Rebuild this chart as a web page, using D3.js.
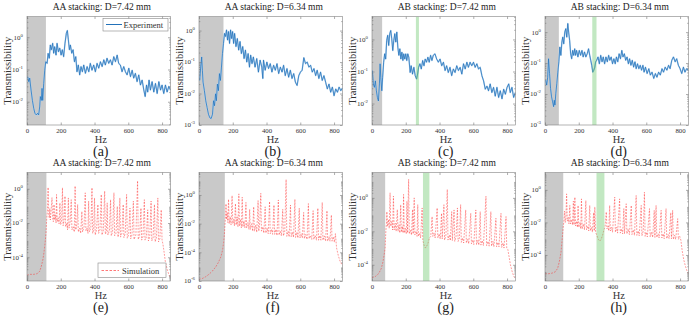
<!DOCTYPE html>
<html>
<head>
<meta charset="utf-8">
<script src="https://cdn.jsdelivr.net/npm/d3@7"></script>
<style>
body { margin: 0; background: #fff; }
svg { font-family: "Liberation Serif", "Times New Roman", serif; }
</style>
</head>
<body>
<svg id="chart" width="696" height="317"></svg>
<script>
// ---- data: [frequency Hz, transmissibility] ----
var expA = [[4,0.060],[10,0.042],[16,0.054],[24,0.023],[32,0.011],[40,0.0062],[47,0.0044],[55,0.0039],[63,0.0044],[69,0.0039],[75,0.0069],[79,0.0145],[85,0.011],[89,0.026],[93,0.011],[99,0.037],[105,0.095],[111,0.174],[119,0.155],[125,0.316],[132,0.224],[138,0.575],[144,0.41],[152,0.65],[158,0.32],[164,0.51],[172,0.28],[178,0.65],[186,0.355],[194,0.46],[202,0.28],[209,0.41],[217,0.25],[225,0.65],[233,1.32],[239,1.62],[245,0.83],[251,0.41],[257,0.575],[265,0.32],[273,0.41],[281,0.174],[289,0.25],[296,0.085],[304,0.138],[312,0.068],[320,0.123],[328,0.085],[336,0.138],[346,0.076],[356,0.123],[366,0.085],[375,0.155],[385,0.095],[395,0.138],[405,0.085],[415,0.155],[425,0.11],[435,0.174],[445,0.123],[455,0.2],[464,0.138],[474,0.224],[484,0.155],[494,0.2],[504,0.138],[514,0.25],[524,0.174],[534,0.28],[543,0.155],[553,0.138],[563,0.085],[573,0.123],[583,0.085],[593,0.068],[603,0.11],[613,0.06],[623,0.095],[632,0.054],[642,0.076],[652,0.042],[662,0.068],[672,0.033],[682,0.047],[692,0.023],[700,0.0145],[708,0.033],[715,0.020],[723,0.047],[731,0.023],[741,0.042],[751,0.020],[761,0.037],[771,0.018],[781,0.042],[791,0.023],[800,0.033],[810,0.018],[820,0.033],[830,0.020],[840,0.030],[850,0.023]];

var expB = [[4,0.026],[10,0.069],[16,0.145],[20,0.055],[24,0.023],[32,0.0123],[40,0.0059],[48,0.0036],[56,0.0022],[64,0.0017],[72,0.0016],[80,0.0022],[86,0.0059],[92,0.0041],[98,0.0098],[103,0.0059],[109,0.020],[115,0.0123],[121,0.043],[127,0.026],[133,0.069],[139,0.186],[145,0.39],[151,0.81],[157,0.65],[163,1.05],[169,0.5],[175,0.93],[181,0.39],[187,1.05],[193,0.56],[199,0.93],[205,0.39],[211,0.81],[219,0.31],[227,0.56],[235,0.24],[243,0.45],[251,0.186],[259,0.31],[267,0.129],[275,0.24],[283,0.1],[291,0.186],[299,0.069],[306,0.166],[314,0.089],[322,0.145],[332,0.069],[342,0.129],[352,0.048],[362,0.115],[372,0.069],[378,0.03],[382,0.115],[392,0.055],[402,0.1],[412,0.062],[422,0.089],[432,0.048],[442,0.079],[452,0.055],[462,0.089],[472,0.043],[482,0.069],[492,0.048],[501,0.079],[511,0.037],[521,0.062],[531,0.033],[541,0.055],[551,0.030],[561,0.043],[571,0.023],[581,0.018],[591,0.037],[601,0.048],[611,0.055],[621,0.138],[631,0.089],[641,0.1],[651,0.069],[661,0.079],[671,0.048],[681,0.062],[691,0.037],[700,0.055],[710,0.030],[720,0.048],[730,0.026],[740,0.037],[750,0.023],[760,0.014],[770,0.020],[780,0.011],[790,0.016],[800,0.0085],[810,0.014],[820,0.011],[830,0.016],[840,0.0123],[850,0.015]];

var expC = [[2,0.107],[8,0.041],[14,0.032],[20,0.051],[26,0.025],[32,0.0155],[38,0.012],[44,0.041],[48,0.174],[52,0.066],[58,0.025],[63,0.066],[69,0.195],[75,0.355],[81,0.245],[87,0.93],[93,1.35],[99,0.65],[105,1.51],[111,1.9],[117,1.05],[123,0.45],[129,0.93],[135,1.51],[141,0.83],[147,1.7],[153,0.575],[159,0.32],[165,0.51],[171,0.245],[177,0.4],[183,0.22],[188,0.355],[194,0.245],[200,0.355],[206,0.22],[212,0.355],[218,0.28],[226,0.093],[232,0.151],[240,0.083],[248,0.135],[256,0.074],[264,0.058],[270,0.083],[276,0.135],[284,0.174],[292,0.12],[300,0.22],[308,0.151],[315,0.245],[323,0.195],[331,0.28],[339,0.195],[347,0.32],[355,0.22],[363,0.32],[373,0.355],[383,0.245],[393,0.195],[403,0.245],[413,0.151],[423,0.195],[433,0.107],[442,0.151],[452,0.093],[462,0.135],[472,0.074],[482,0.12],[492,0.093],[502,0.151],[512,0.107],[522,0.135],[532,0.083],[542,0.174],[552,0.12],[562,0.195],[571,0.135],[581,0.195],[591,0.151],[601,0.195],[611,0.135],[621,0.174],[631,0.12],[641,0.135],[651,0.074],[661,0.051],[671,0.028],[681,0.035],[690,0.025],[700,0.041],[710,0.022],[720,0.032],[730,0.017],[740,0.032],[750,0.0155],[760,0.025],[770,0.014],[780,0.028],[790,0.0195],[800,0.032],[810,0.041],[819,0.022],[829,0.032],[839,0.0155],[849,0.022]];

var expD = [[4,0.028],[10,0.0195],[16,0.035],[21,0.138],[27,0.046],[33,0.015],[39,0.0081],[45,0.0056],[51,0.0039],[55,0.0063],[59,0.0044],[64,0.0105],[70,0.022],[76,0.051],[82,0.11],[88,0.33],[94,0.178],[100,0.48],[105,0.69],[111,0.42],[117,1.0],[123,1.29],[129,0.69],[135,1.9],[140,1.0],[146,0.54],[152,0.2],[158,0.138],[164,0.257],[170,0.178],[176,0.29],[181,0.178],[187,0.257],[195,0.158],[203,0.257],[211,0.178],[219,0.257],[226,0.158],[234,0.229],[242,0.158],[250,0.2],[258,0.29],[265,0.178],[271,0.123],[277,0.085],[283,0.051],[289,0.059],[295,0.074],[300,0.11],[306,0.123],[314,0.158],[322,0.095],[330,0.178],[338,0.11],[345,0.158],[353,0.095],[361,0.158],[369,0.11],[377,0.178],[384,0.123],[392,0.158],[400,0.095],[408,0.138],[416,0.095],[423,0.158],[431,0.11],[439,0.2],[447,0.138],[455,0.257],[462,0.158],[470,0.2],[478,0.123],[486,0.158],[494,0.095],[501,0.138],[509,0.085],[517,0.123],[525,0.074],[533,0.11],[540,0.066],[548,0.095],[556,0.066],[564,0.085],[572,0.059],[580,0.085],[587,0.051],[595,0.074],[605,0.046],[615,0.066],[624,0.041],[634,0.051],[644,0.032],[654,0.046],[663,0.035],[673,0.051],[683,0.041],[693,0.066],[702,0.051],[712,0.074],[722,0.059],[732,0.085],[741,0.066],[751,0.123],[761,0.158],[771,0.11],[780,0.138],[790,0.085],[800,0.066],[810,0.046],[820,0.074],[829,0.051],[839,0.066],[849,0.059]];

var simE = [[0,9e-6],[20,1.0e-5],[40,1.0e-5],[60,1.1e-5],[75,1.5e-5],[85,3e-5],[95,8e-5],[102,2.5e-4],[108,8e-4],[113,3e-3],[117,0.02],[121,0.05],[125,1.2],[129,0.03],[132,0.02],[135,0.07],[138,0.015],[142,0.04],[148,0.3],[152,0.02],[156,0.012],[160,0.12],[164,0.015],[168,0.03],[172,0.01],[175,0.46],[179,0.012],[185,0.02],[190,0.009],[195,0.15],[199,0.008],[205,0.012],[210,1.15],[214,0.007],[220,0.015],[225,0.37],[229,0.006],[236,0.01],[240,0.004],[245,0.29],[249,0.005],[256,0.012],[262,0.23],[266,0.004],[274,0.006],[280,0.003],[285,1.45],[289,0.004],[295,0.008],[300,0.12],[304,0.003],[312,0.005],[318,0.0025],[325,0.047],[329,0.003],[338,0.006],[345,0.58],[349,0.0035],[356,0.005],[361,0.0025],[365,0.19],[369,0.003],[378,0.005],[385,1.15],[389,0.0025],[395,0.004],[400,0.29],[404,0.002],[412,0.004],[420,0.12],[424,0.0025],[432,0.004],[440,0.46],[444,0.002],[452,0.0035],[460,0.73],[464,0.0022],[470,0.003],[475,0.15],[479,0.002],[488,0.0035],[495,0.23],[499,0.0018],[507,0.003],[515,0.58],[519,0.0018],[527,0.0025],[535,0.093],[539,0.0015],[545,0.003],[550,0.29],[554,0.0015],[562,0.0025],[570,0.12],[574,0.0014],[582,0.0025],[590,0.46],[594,0.0013],[602,0.002],[610,0.074],[614,0.0012],[622,0.002],[630,0.19],[634,0.0011],[645,0.002],[655,2.9],[659,0.0011],[667,0.0018],[675,0.074],[679,0.001],[687,0.0016],[695,0.23],[699,0.001],[707,0.0015],[715,0.059],[719,0.0009],[727,0.0015],[735,0.19],[739,0.0009],[747,0.0014],[755,0.12],[759,0.0008],[767,0.0014],[775,0.29],[779,0.0008],[787,0.0012],[795,0.059],[800,0.001],[805,0.0006],[812,2e-4],[820,5e-5],[830,2e-5],[840,1e-5],[850,6e-6]];

var simF = [[0,1.3e-6],[20,1.5e-6],[40,2e-6],[60,3e-6],[80,5e-6],[100,1e-5],[115,2e-5],[130,5e-5],[140,1.5e-4],[146,5e-4],[150,1.5e-3],[153,6e-3],[157,0.03],[160,0.24],[163,0.02],[167,0.06],[171,0.012],[175,0.5],[179,0.01],[185,0.03],[190,0.008],[196,0.9],[200,0.01],[206,0.02],[210,0.007],[216,0.25],[220,0.008],[226,0.03],[231,0.006],[236,1.2],[240,0.007],[246,0.02],[251,0.005],[256,0.7],[260,0.006],[266,0.015],[272,0.005],[278,0.3],[282,0.005],[290,0.012],[296,0.004],[300,0.1],[304,0.004],[312,0.01],[318,0.003],[324,0.15],[328,0.003],[336,0.008],[342,0.0025],[350,0.4],[354,0.003],[360,0.012],[366,1.3],[370,0.003],[378,0.006],[384,0.0022],[392,0.15],[396,0.0022],[404,0.005],[410,0.002],[418,0.35],[422,0.002],[430,0.004],[436,0.0018],[444,0.2],[448,0.0018],[456,0.004],[462,0.0015],[470,0.45],[474,0.0016],[482,0.003],[488,0.0014],[496,0.1],[500,0.0014],[508,0.003],[516,12],[520,0.0013],[528,0.003],[534,0.0012],[542,0.2],[546,0.0012],[554,0.0025],[560,0.0011],[568,0.5],[572,0.0011],[580,0.0025],[586,0.001],[594,0.12],[598,0.001],[606,0.002],[612,0.001],[620,0.06],[624,0.0009],[632,0.0018],[640,0.0008],[648,0.25],[652,0.0009],[660,0.0015],[668,0.0008],[676,0.08],[680,0.0008],[688,0.0015],[696,0.0007],[704,0.12],[708,0.0007],[716,0.0015],[722,0.0007],[730,0.3],[734,0.0007],[742,0.0014],[750,0.0006],[758,0.08],[762,0.0006],[770,0.0012],[776,0.0006],[784,0.04],[788,0.0006],[796,0.0012],[802,0.0005],[808,0.002],[815,2e-4],[825,6e-5],[835,2.5e-5],[845,1.5e-5],[850,1.2e-5]];

var simG = [[0,1.7e-5],[20,2e-5],[40,3e-5],[55,6e-5],[65,1.5e-4],[72,4e-4],[78,1e-3],[82,0.01],[86,0.03],[88,0.15],[92,0.02],[98,0.05],[102,0.015],[107,2],[111,0.02],[118,0.04],[122,0.012],[127,1.26],[131,0.012],[138,0.03],[143,0.01],[150,0.2],[154,0.01],[160,0.025],[165,0.008],[170,0.39],[174,0.009],[180,0.02],[184,0.008],[187,1.6],[191,0.008],[198,0.015],[203,0.007],[207,0.63],[211,0.008],[217,13],[221,0.007],[228,0.012],[234,0.006],[240,0.2],[244,0.007],[250,1],[254,0.006],[262,0.01],[267,0.005],[271,0.39],[275,0.005],[282,0.008],[288,0.004],[297,0.25],[301,0.003],[308,0.0015],[316,0.001],[324,0.0013],[332,0.002],[340,0.004],[348,0.005],[356,0.076],[360,0.005],[368,0.008],[374,0.004],[386,0.25],[390,0.004],[398,0.007],[404,0.0035],[412,0.12],[416,0.0035],[426,0.39],[430,0.003],[438,0.006],[446,3.2],[450,0.003],[458,0.006],[464,0.0028],[472,0.15],[476,0.0028],[486,0.19],[490,0.0025],[498,0.005],[506,0.25],[510,0.0025],[518,0.004],[525,0.39],[529,0.0022],[537,0.004],[543,0.002],[555,0.19],[559,0.002],[567,0.0035],[573,0.0018],[585,0.12],[589,0.0018],[597,0.003],[603,0.0016],[615,0.19],[619,0.0016],[627,0.003],[633,0.0015],[641,0.15],[645,0.0015],[653,0.0028],[660,0.0014],[675,1.26],[679,0.0014],[687,0.0025],[694,0.0013],[704,0.15],[708,0.0013],[716,0.0025],[722,0.0012],[734,0.06],[738,0.0012],[746,0.0022],[752,0.0012],[764,0.12],[768,0.0011],[776,0.002],[782,0.001],[794,0.076],[798,0.001],[805,0.0008],[812,3e-4],[820,1e-4],[830,4e-5],[840,2e-5],[850,1.5e-5]];

var simH = [[0,7e-6],[20,7e-6],[40,7.5e-6],[60,9e-6],[75,1.5e-5],[85,4e-5],[95,1.5e-4],[102,1e-3],[108,0.005],[112,0.012],[116,0.05],[120,0.01],[124,0.02],[128,0.57],[132,0.012],[138,0.02],[142,0.008],[147,0.11],[151,0.008],[158,0.015],[163,0.007],[168,0.2],[172,0.007],[177,0.355],[181,0.006],[188,0.012],[192,0.005],[196,0.11],[200,0.005],[208,0.01],[212,0.004],[216,0.28],[220,0.004],[228,0.008],[234,0.0035],[242,0.22],[246,0.0035],[254,0.006],[259,0.003],[265,0.11],[269,0.003],[276,0.005],[281,0.0025],[288,0.04],[292,0.003],[295,0.089],[300,0.0025],[308,0.0015],[316,0.0009],[324,0.0007],[332,0.0009],[340,0.0015],[348,0.003],[356,0.006],[363,0.044],[367,0.004],[374,0.006],[378,0.003],[383,0.11],[387,0.003],[395,0.005],[400,0.0025],[413,0.355],[417,0.0025],[425,0.005],[430,0.0022],[442,0.28],[446,0.0022],[454,0.004],[460,0.002],[467,0.07],[471,0.002],[481,0.14],[485,0.002],[493,0.004],[500,0.0018],[511,0.11],[515,0.0018],[523,0.0035],[530,0.0016],[540,0.45],[544,0.0016],[552,0.003],[558,0.0015],[570,0.11],[574,0.0015],[582,0.003],[589,0.72],[593,0.0014],[600,0.0025],[606,0.0013],[619,0.07],[623,0.0013],[631,0.0025],[638,0.0012],[647,0.055],[651,0.0012],[658,0.11],[662,0.0012],[670,0.002],[676,0.0011],[688,0.055],[692,0.0011],[700,0.002],[706,0.001],[717,0.07],[721,0.001],[729,0.0018],[735,0.001],[745,0.04],[749,0.001],[756,0.055],[760,0.0009],[768,0.0016],[774,0.0009],[786,0.017],[790,0.0009],[798,0.0014],[805,0.0008],[812,2e-4],[822,5e-5],[832,2e-5],[842,1e-5],[850,7e-6]];

var titles = ["AA stacking: D=7.42 mm", "AA stacking: D=6.34 mm", "AB stacking: D=7.42 mm", "AB stacking: D=6.34 mm",
              "AA stacking: D=7.42 mm", "AA stacking: D=6.34 mm", "AB stacking: D=7.42 mm", "AB stacking: D=6.34 mm"];
var letters = ["(a)", "(b)", "(c)", "(d)", "(e)", "(f)", "(g)", "(h)"];
var xTicks = [0, 200, 400, 600, 800];
var topYTicks = [1, 0.1, 0.01, 0.001];
var bottomYTicks = [1, 1e-2, 1e-4, 1e-6];
var greyEnd = [112, 145, 60, 82, 115, 153, 78, 108];
var greenBand = [null, null, [260, 278], [280, 305], null, null, [302, 340], [305, 352]];
var allSeries = [expA, expB, expC, expD, simE, simF, simG, simH];

// ---- layout ----
var yDomains = [[0.0019, 4.4], [0.001, 2.8], [0.00214, 5.2], [0.001, 3.2],
                [4.1e-6, 8.9], [1e-6, 37], [1.07e-5, 33], [2.5e-6, 11.7]];
var lefts = [27, 199, 372, 545];
var tops = [16.5, 172.5];
var pw = 143.5, ph = 108.5;

var svg = d3.select("#chart");

function drawPanel(i) {
    var col = i % 4, row = Math.floor(i / 4);
    var isSim = row == 1;
    var g = svg.append("g")
        .attr("transform", "translate(" + lefts[col] + "," + tops[row] + ")");

    var x = d3.scaleLinear().domain([0, 850]).range([0, pw]);
    var y = d3.scaleLog().domain(yDomains[i]).range([ph, 0]);

    g.append("clipPath").attr("id", "clip" + i)
        .append("rect").attr("width", pw).attr("height", ph);
    var inner = g.append("g").attr("clip-path", "url(#clip" + i + ")");

    // grey excluded band
    inner.append("rect")
        .attr("x", x(0)).attr("y", 0)
        .attr("width", x(greyEnd[i]) - x(0)).attr("height", ph)
        .attr("fill", "#c9c9c9");

    var line = d3.line()
        .x(function (d) { return x(d[0]); })
        .y(function (d) { return y(d[1]); });

    if (isSim) {
        inner.append("path")
            .attr("d", line(allSeries[i]))
            .attr("fill", "none")
            .attr("stroke", "#ff2a2a")
            .attr("stroke-opacity", 0.8)
            .attr("stroke-width", 0.6)
            .attr("stroke-dasharray", "1.8,1.3")
            .attr("stroke-linejoin", "round");
    } else {
        inner.append("path")
            .attr("d", line(allSeries[i]))
            .attr("fill", "none")
            .attr("stroke", "#b3d2ee")
            .attr("stroke-width", 1.5)
            .attr("stroke-linejoin", "round");
        inner.append("path")
            .attr("d", line(allSeries[i]))
            .attr("fill", "none")
            .attr("stroke", "#2271b9")
            .attr("stroke-width", 0.75)
            .attr("stroke-linejoin", "round");
    }

    // green marked band, drawn over the curve
    if (greenBand[i]) {
        inner.append("rect")
            .attr("x", x(greenBand[i][0])).attr("y", 0)
            .attr("width", x(greenBand[i][1]) - x(greenBand[i][0])).attr("height", ph)
            .attr("fill", "rgb(110,200,110)").attr("fill-opacity", 0.42);
    }

    // axes, ticks pointing inward
    var gx = g.append("g").attr("transform", "translate(0," + ph + ")")
        .call(d3.axisBottom(x).tickValues(xTicks).tickSize(-2.5).tickPadding(3).tickFormat(d3.format("d")));
    g.append("g")
        .call(d3.axisTop(x).tickValues(xTicks).tickSize(-2.5).tickFormat(""));

    var yt = (isSim ? bottomYTicks : topYTicks).filter(function (v) {
        return v >= yDomains[i][0] * 0.999 && v <= yDomains[i][1];
    });
    var minor = [];
    var lo = Math.floor(Math.log10(yDomains[i][0])), hi = Math.ceil(Math.log10(yDomains[i][1]));
    for (var k = lo; k < hi; k++) {
        for (var m = 2; m < 10; m++) {
            var v = m * Math.pow(10, k);
            if (v > yDomains[i][0] && v < yDomains[i][1]) minor.push(v);
        }
    }
    g.append("g")
        .call(d3.axisLeft(y).tickValues(yt).tickSize(-2.5).tickFormat(""));
    g.append("g").attr("transform", "translate(" + pw + ",0)")
        .call(d3.axisRight(y).tickValues(yt).tickSize(-2.5).tickFormat(""));
    g.append("g").call(d3.axisLeft(y).tickValues(minor).tickSize(-1.3).tickFormat(""));
    g.append("g").attr("transform", "translate(" + pw + ",0)")
        .call(d3.axisRight(y).tickValues(minor).tickSize(-1.3).tickFormat(""));

    g.selectAll(".domain").remove();
    g.selectAll(".tick line").attr("stroke", "#777").attr("stroke-width", 0.6);
    gx.selectAll("text").attr("font-size", "6.8px").attr("fill", "#333")
        .attr("font-family", "Liberation Serif, serif");

    // log tick labels 10^n
    yt.forEach(function (v) {
        var t = g.append("text")
            .attr("x", -4)
            .attr("y", y(v) + 2.4)
            .attr("text-anchor", "end")
            .attr("fill", "#333")
            .attr("font-size", "7px");
        t.append("tspan").text("10");
        t.append("tspan").attr("dy", -3).attr("font-size", "4.8px")
            .text(Math.round(Math.log10(v)));
    });

    // frame
    g.append("rect").attr("width", pw).attr("height", ph)
        .attr("fill", "none").attr("stroke", "#808080").attr("stroke-width", 0.6);

    // labels
    g.append("text")
        .attr("x", pw / 2 + 3).attr("y", -6.3)
        .attr("text-anchor", "middle").attr("font-size", "9.5px").attr("fill", "#222")
        .text(titles[i]);
    g.append("text")
        .attr("transform", "translate(-16," + (ph / 2) + ") rotate(-90)")
        .attr("text-anchor", "middle").attr("font-size", "10.5px").attr("fill", "#333")
        .text("Transmissibility");
    g.append("text")
        .attr("x", pw / 2 + 2).attr("y", ph + 17.5)
        .attr("text-anchor", "middle").attr("font-size", "10.5px").attr("fill", "#333")
        .text("Hz");
    g.append("text")
        .attr("x", pw / 2 + 2).attr("y", ph + 31)
        .attr("text-anchor", "middle").attr("font-size", "14px").attr("fill", "#222")
        .text(letters[i]);

    // legends
    if (i == 0) {
        var lg = g.append("g").attr("transform", "translate(76,2)");
        lg.append("rect").attr("width", 65).attr("height", 12.5)
            .attr("fill", "#fff").attr("stroke", "#888").attr("stroke-width", 0.6);
        lg.append("line").attr("x1", 3).attr("x2", 19).attr("y1", 6).attr("y2", 6)
            .attr("stroke", "#2271b9").attr("stroke-width", 1);
        lg.append("text").attr("x", 20.5).attr("y", 9.2)
            .attr("font-size", "8.5px").attr("fill", "#333").text("Experiment");
    }
    if (i == 4) {
        var lg2 = g.append("g").attr("transform", "translate(71,90.5)");
        lg2.append("rect").attr("width", 68).attr("height", 14.5)
            .attr("fill", "#fff").attr("stroke", "#888").attr("stroke-width", 0.6);
        lg2.append("line").attr("x1", 3.5).attr("x2", 21).attr("y1", 7.5).attr("y2", 7.5)
            .attr("stroke", "#ff2a2a").attr("stroke-opacity", 0.8)
            .attr("stroke-width", 0.8).attr("stroke-dasharray", "2.5,1.5");
        lg2.append("text").attr("x", 24).attr("y", 10.5)
            .attr("font-size", "8.5px").attr("fill", "#333").text("Simulation");
    }
}

for (var i = 0; i < 8; i++) drawPanel(i);
</script>
</body>
</html>
